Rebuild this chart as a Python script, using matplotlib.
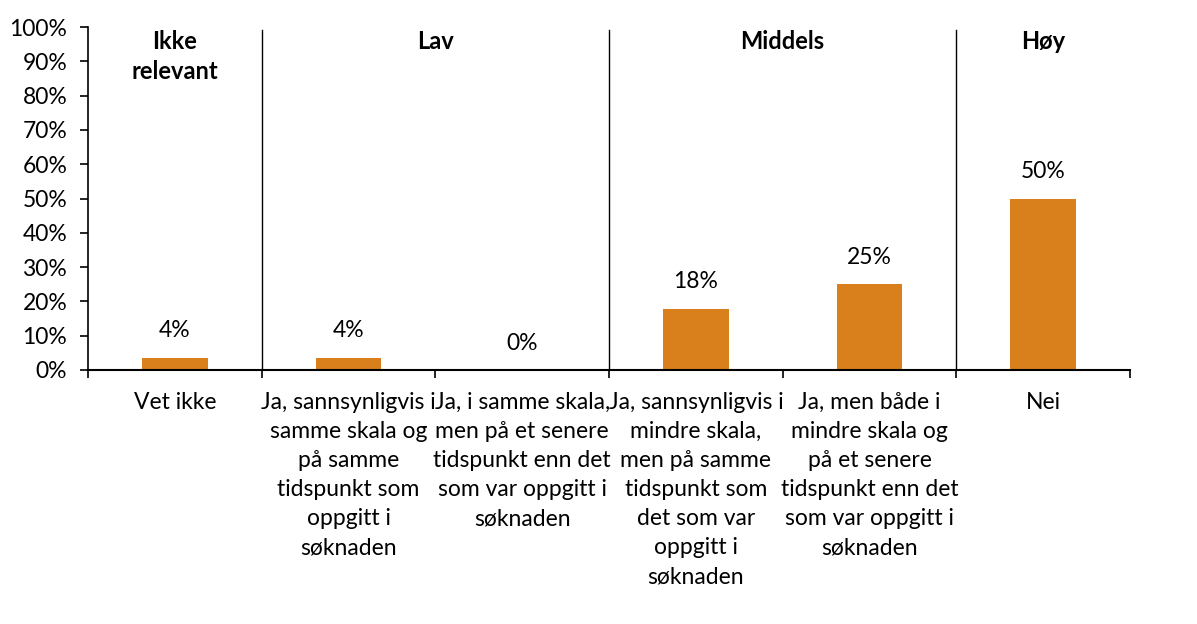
import numpy as np
import matplotlib.pyplot as plt
from matplotlib.ticker import PercentFormatter

plt.rcParams['font.family'] = ['Lato', 'DejaVu Sans']

categories = [
    "Vet ikke",
    "Ja, sannsynligvis i\nsamme skala og\npå samme\ntidspunkt som\noppgitt i\nsøknaden",
    "Ja, i samme skala,\nmen på et senere\ntidspunkt enn det\nsom var oppgitt i\nsøknaden",
    "Ja, sannsynligvis i\nmindre skala,\nmen på samme\ntidspunkt som\ndet som var\noppgitt i\nsøknaden",
    "Ja, men både i\nmindre skala og\npå et senere\ntidspunkt enn det\nsom var oppgitt i\nsøknaden",
    "Nei",
]
values = [3.57, 3.57, 0.0, 17.86, 25.0, 50.0]

groups = ["Ikke\nrelevant", "Lav", "Middels", "Høy"]
group_spans = [(0, 0), (1, 2), (3, 4), (5, 5)]
separators = [0.5, 2.5, 4.5]

bar_color = "#D9801C"
fs = 16.5

fig = plt.figure(figsize=(11.97, 6.24), dpi=100)
ax = fig.add_axes([88 / 1197, 1 - 370 / 624, (1130 - 88) / 1197, (370 - 27) / 624])

x = np.arange(len(categories))
ax.bar(x, values, width=0.38, color=bar_color, zorder=2)

# data labels above bars
for xi, v in zip(x, values):
    ax.text(xi, v + 4.8, f"{v:.0f}%", ha="center", va="bottom", fontsize=fs)

# group separators and headings
for s in separators:
    ax.plot([s, s], [0, 99], color="black", lw=1, zorder=1)

for g, (a, b) in zip(groups, group_spans):
    ax.text((a + b) / 2, 99, g, ha="center", va="top", fontsize=fs + 0.5,
            fontweight="bold", linespacing=1.35)

ax.set_xlim(-0.5, len(categories) - 0.5)
ax.set_ylim(0, 100)
ax.set_yticks(np.arange(0, 101, 10))
ax.yaxis.set_major_formatter(PercentFormatter(decimals=0))

ax.set_xticks(np.arange(-0.5, len(categories), 1))
ax.set_xticklabels([])
ax.set_xticks(x, minor=True)
ax.set_xticklabels(categories, minor=True, fontsize=fs, linespacing=1.47)
ax.tick_params(axis="x", which="minor", length=0, pad=16)
ax.tick_params(axis="x", which="major", length=6, width=1.2, direction="out")
ax.tick_params(axis="y", length=6, width=1.2, labelsize=fs, pad=9)

for side in ["top", "right"]:
    ax.spines[side].set_visible(False)
ax.spines["left"].set_linewidth(1.2)
ax.spines["bottom"].set_linewidth(1.5)

fig.savefig("out.png", dpi=100)
